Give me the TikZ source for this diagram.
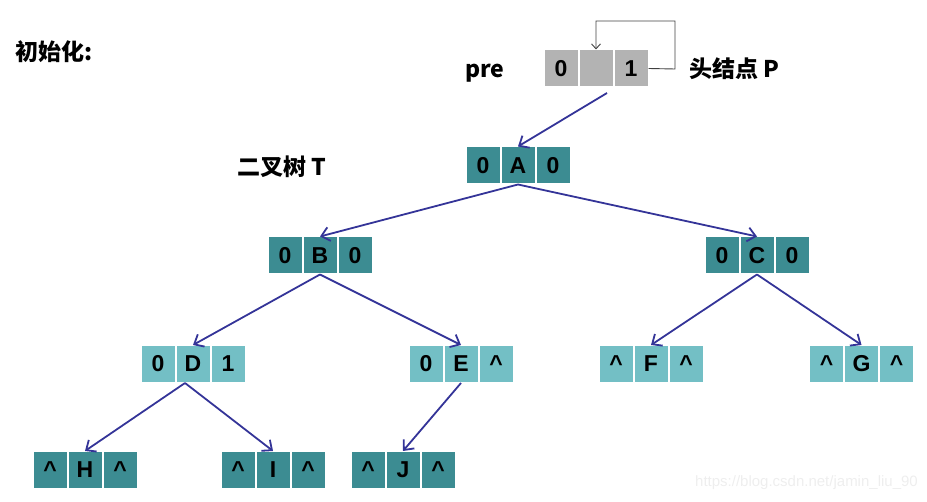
\documentclass[tikz,border=0pt]{standalone}
\usepackage{fontspec}
\setmainfont{Liberation Sans}
\newfontfamily\cjk{Noto Sans CJK SC}
\usetikzlibrary{arrows.meta}
\definecolor{darkteal}{HTML}{3C8C92}
\definecolor{lightteal}{HTML}{73BFC5}
\definecolor{headgray}{HTML}{B3B3B3}
\definecolor{arrowblue}{HTML}{343498}
\definecolor{loopgray}{HTML}{404040}
\definecolor{wmark}{HTML}{EEEEEE}
\tikzset{
  cell/.style={draw=white, line width=1pt, minimum width=34pt, minimum height=37pt,
    inner sep=0pt, font=\bfseries\fontsize{23}{23}\selectfont, text=black},
  dark/.style={cell, fill=darkteal},
  light/.style={cell, fill=lightteal},
  grayc/.style={cell, fill=headgray},
  link/.style={draw=arrowblue, line width=1.8pt,
    -{Straight Barb[length=8pt,width=14pt,line width=1.8pt]}},
  loop/.style={draw=loopgray, line width=0.9pt,
    -{Straight Barb[length=5pt,width=9pt,line width=0.9pt]}},
  lbl/.style={font=\cjk\bfseries\fontsize{23}{23}\selectfont, text=black, inner sep=0pt},
}
\newcommand\tripcell[7]{%
  \node[#7] (#1) at (#2,#3) {#5};
  \node[#7, anchor=east] (#1-l) at (#1.west) {#4};
  \node[#7, anchor=west] (#1-r) at (#1.east) {#6};
}
\begin{document}
\begin{tikzpicture}[x=1pt,y=-1pt]
\useasboundingbox (0,0) rectangle (927,502);
\tripcell{P}{596}{68.5}{0}{}{1}{grayc}
\tripcell{A}{518}{165.5}{0}{A}{0}{dark}
\tripcell{B}{320}{255.5}{0}{B}{0}{dark}
\tripcell{C}{757}{255.5}{0}{C}{0}{dark}
\tripcell{D}{193}{364}{0}{D}{1}{light}
\tripcell{E}{461}{364}{0}{E}{\textasciicircum}{light}
\tripcell{F}{651}{364}{\textasciicircum}{F}{\textasciicircum}{light}
\tripcell{G}{861.5}{364}{\textasciicircum}{G}{\textasciicircum}{light}
\tripcell{H}{85}{470}{\textasciicircum}{H}{\textasciicircum}{dark}
\tripcell{I}{273}{470}{\textasciicircum}{I}{\textasciicircum}{dark}
\tripcell{J}{403}{470}{\textasciicircum}{J}{\textasciicircum}{dark}

\node[lbl, anchor=west] (init) at (15,52) {初始化:};
\node[lbl, anchor=west] (pre) at (465,73) {pre};
\node[lbl, anchor=west] (head) at (689,69) {头结点 P};
\node[lbl, anchor=west] (tree) at (237,167) {二叉树 T};
\node[font=\fontsize{15}{15}\selectfont, text=wmark, anchor=east, inner sep=0pt] (wm) at (918,483) {https://blog.csdn.net/jamin\_liu\_90};

\coordinate (Ps) at (607,93);
\coordinate (L1) at (675,69);
\coordinate (L2) at (675,21);
\coordinate (L3) at (596,21);
\draw[loop] (P-r.east) -- (L1) -- (L2) -- (L3) -- (P.north);

\draw[link] (Ps) -- (A.north);
\draw[link] (A.south) -- (B.north);
\draw[link] (A.south) -- (C.north);
\draw[link] (B.south) -- (D.north);
\draw[link] (B.south) -- (E.north);
\draw[link] (C.south) -- (F.north);
\draw[link] (C.south) -- (G.north);
\draw[link] ([xshift=-8pt]D.south) -- (H.north);
\draw[link] ([xshift=-8pt]D.south) -- (I.north);
\draw[link] (E.south) -- (J.north);
\end{tikzpicture}
\end{document}
